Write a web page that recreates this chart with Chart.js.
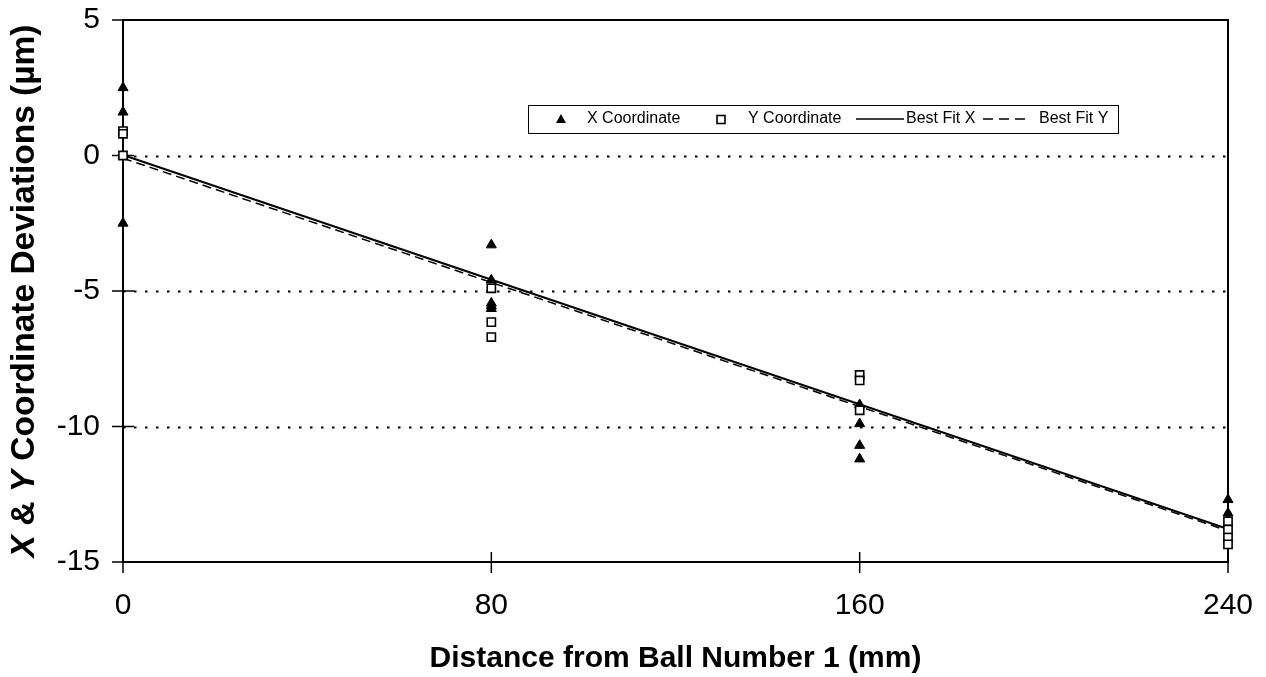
<!DOCTYPE html>
<html>
<head>
<meta charset="utf-8">
<title>Coordinate deviations vs distance</title>
<script src="https://cdn.jsdelivr.net/npm/chart.js@4/dist/chart.umd.min.js"></script>
<style>
  html, body { margin: 0; padding: 0; background: #fff; }
  canvas { display: block; }
</style>
</head>
<body>
<canvas id="chart" width="1266" height="677"></canvas>
<script>
// Distance of each measured ball from ball 1 (mm)
const distanceTicks = [0, 80, 160, 240];
const deviationTicks = [5, 0, -5, -10, -15];
const gridValues = [0, -5, -10];

// X coordinate deviations (µm) at each distance
const xCoordDistance = [0, 0, 0, 0, 80, 80, 80, 80, 80, 160, 160, 160, 160, 240, 240];
const xCoordDeviation = [2.5, 1.6, 0, -2.5, -3.3, -4.6, -5.45, -5.55, -5.65, -9.2, -9.9, -10.7, -11.2, -12.7, -13.2];

// Y coordinate deviations (µm) at each distance
const yCoordDistance = [0, 0, 0, 80, 80, 80, 160, 160, 160, 240, 240, 240, 240];
const yCoordDeviation = [0.9, 0.8, 0, -4.9, -6.15, -6.7, -8.1, -8.3, -9.4, -13.5, -13.8, -14.1, -14.35];

// Least-squares fit lines, given by their end points
const fitDistance = [0, 240];
const fitXDeviation = [0.02, -13.78];
const fitYDeviation = [-0.1, -13.85];

const toPoints = (xs, ys) => xs.map((x, i) => ({ x: x, y: ys[i] }));

const FONT = "'Liberation Sans', Arial, Helvetica, sans-serif";
Chart.defaults.font.family = FONT;
Chart.defaults.color = '#000';

// Axis frame, crossing tick marks and dotted reference lines
const framePlugin = {
  id: 'frame',
  beforeDatasetsDraw(chart) {
    const { ctx, chartArea: a, scales } = chart;
    const xs = scales.x, ys = scales.y;
    ctx.save();
    ctx.strokeStyle = '#000';
    ctx.lineWidth = 2;
    ctx.setLineDash([2.5, 8.5]);
    gridValues.forEach(v => {
      const y = Math.round(ys.getPixelForValue(v)) + 0.5;
      ctx.beginPath();
      ctx.moveTo(a.left, y);
      ctx.lineTo(a.right, y);
      ctx.stroke();
    });
    ctx.setLineDash([]);
    ctx.strokeRect(a.left, a.top, a.right - a.left, a.bottom - a.top);
    ctx.lineWidth = 1.5;
    deviationTicks.forEach(v => {
      const y = ys.getPixelForValue(v);
      ctx.beginPath();
      ctx.moveTo(a.left - 11, y);
      ctx.lineTo(a.left + 11, y);
      ctx.stroke();
    });
    distanceTicks.forEach(v => {
      const x = xs.getPixelForValue(v);
      ctx.beginPath();
      ctx.moveTo(x, a.bottom - 10);
      ctx.lineTo(x, a.bottom + 11);
      ctx.stroke();
    });
    ctx.restore();
  }
};

// Axis titles (the vertical one mixes italic and upright letters)
const titlePlugin = {
  id: 'titles',
  afterDraw(chart) {
    const { ctx, chartArea: a } = chart;
    ctx.save();
    ctx.fillStyle = '#000';
    ctx.textBaseline = 'middle';
    ctx.textAlign = 'center';
    ctx.font = 'bold 30px ' + FONT;
    ctx.fillText('Distance from Ball Number 1 (mm)', (a.left + a.right) / 2, 659);

    const parts = [
      ['X', 'italic bold'], [' & ', 'bold'], ['Y', 'italic bold'], [' Coordinate Deviations (µm)', 'bold']
    ];
    const size = 33.5;
    let total = 0;
    parts.forEach(p => { ctx.font = p[1] + ' ' + size + 'px ' + FONT; p.push(ctx.measureText(p[0]).width); total += p[2]; });
    ctx.translate(25, (a.top + a.bottom) / 2);
    ctx.rotate(-Math.PI / 2);
    ctx.textAlign = 'left';
    let x = -total / 2;
    parts.forEach(p => {
      ctx.font = p[1] + ' ' + size + 'px ' + FONT;
      ctx.fillText(p[0], x, 0);
      x += p[2];
    });
    ctx.restore();
  }
};

// Boxed legend inside the plot area
const legendPlugin = {
  id: 'boxLegend',
  afterDraw(chart) {
    const { ctx } = chart;
    const ds = chart.data.datasets;
    const box = { x: 528, y: 105, w: 590, h: 28 };
    const cy = box.y + box.h / 2;
    ctx.save();
    ctx.fillStyle = '#fff';
    ctx.fillRect(box.x, box.y, box.w, box.h);
    ctx.strokeStyle = '#000';
    ctx.lineWidth = 1;
    ctx.strokeRect(box.x + 0.5, box.y + 0.5, box.w, box.h);
    ctx.font = '16px ' + FONT;
    ctx.textBaseline = 'middle';
    ctx.textAlign = 'left';
    ctx.fillStyle = '#000';

    // filled triangle
    ctx.beginPath();
    ctx.moveTo(561, cy - 5); ctx.lineTo(566, cy + 4); ctx.lineTo(556, cy + 4); ctx.closePath();
    ctx.fill();
    ctx.fillText(ds[0].label, 587, cy);

    // hollow square
    ctx.lineWidth = 1.6;
    ctx.strokeRect(717, cy - 3.5, 8, 8);
    ctx.fillText(ds[1].label, 748, cy);

    // solid line
    ctx.lineWidth = 1.5;
    ctx.beginPath(); ctx.moveTo(856, cy); ctx.lineTo(904, cy); ctx.stroke();
    ctx.fillText(ds[2].label, 906, cy);

    // dashed line
    ctx.setLineDash([10, 6]);
    ctx.beginPath(); ctx.moveTo(983, cy); ctx.lineTo(1031, cy); ctx.stroke();
    ctx.setLineDash([]);
    ctx.fillText(ds[3].label, 1039, cy);
    ctx.restore();
  }
};

// Keep the plot frame exactly where the layout padding puts it
const noOverflow = s => { s.paddingTop = 0; s.paddingBottom = 0; s.paddingLeft = 0; s.paddingRight = 0; };

new Chart(document.getElementById('chart'), {
  type: 'scatter',
  data: {
    datasets: [
      {
        label: 'X Coordinate',
        data: toPoints(xCoordDistance, xCoordDeviation),
        pointStyle: 'triangle',
        pointRadius: 5.8,
        backgroundColor: '#000',
        borderColor: '#000',
        borderWidth: 1,
        clip: false,
        order: 1
      },
      {
        label: 'Y Coordinate',
        data: toPoints(yCoordDistance, yCoordDeviation),
        pointStyle: 'rect',
        pointRadius: 5.8,
        backgroundColor: '#fff',
        borderColor: '#000',
        borderWidth: 1.6,
        clip: false,
        order: 0
      },
      {
        label: 'Best Fit X',
        data: toPoints(fitDistance, fitXDeviation),
        showLine: true,
        pointRadius: 0,
        borderColor: '#000',
        borderWidth: 2,
        clip: false,
        order: 2
      },
      {
        label: 'Best Fit Y',
        data: toPoints(fitDistance, fitYDeviation),
        showLine: true,
        pointRadius: 0,
        borderColor: '#000',
        borderWidth: 1.5,
        borderDash: [9, 5],
        clip: false,
        order: 3
      }
    ]
  },
  options: {
    responsive: false,
    animation: false,
    layout: { padding: { top: 20, right: 38, left: 0, bottom: 0 } },
    plugins: { legend: { display: false }, tooltip: { enabled: false } },
    scales: {
      x: {
        type: 'linear',
        min: 0,
        max: 240,
        afterBuildTicks: s => { s.ticks = distanceTicks.map(v => ({ value: v })); },
        afterFit: s => { s.height = 115; noOverflow(s); },
        grid: { display: false, drawTicks: false },
        border: { display: false },
        ticks: { font: { size: 30 }, color: '#000', padding: 26, maxRotation: 0 }
      },
      y: {
        type: 'linear',
        min: -15,
        max: 5,
        afterBuildTicks: s => { s.ticks = deviationTicks.slice().reverse().map(v => ({ value: v })); },
        afterFit: s => { s.width = 123; noOverflow(s); },
        grid: { display: false, drawTicks: false },
        border: { display: false },
        ticks: { font: { size: 30 }, color: '#000', padding: 23 }
      }
    }
  },
  plugins: [framePlugin, titlePlugin, legendPlugin]
});
</script>
</body>
</html>
